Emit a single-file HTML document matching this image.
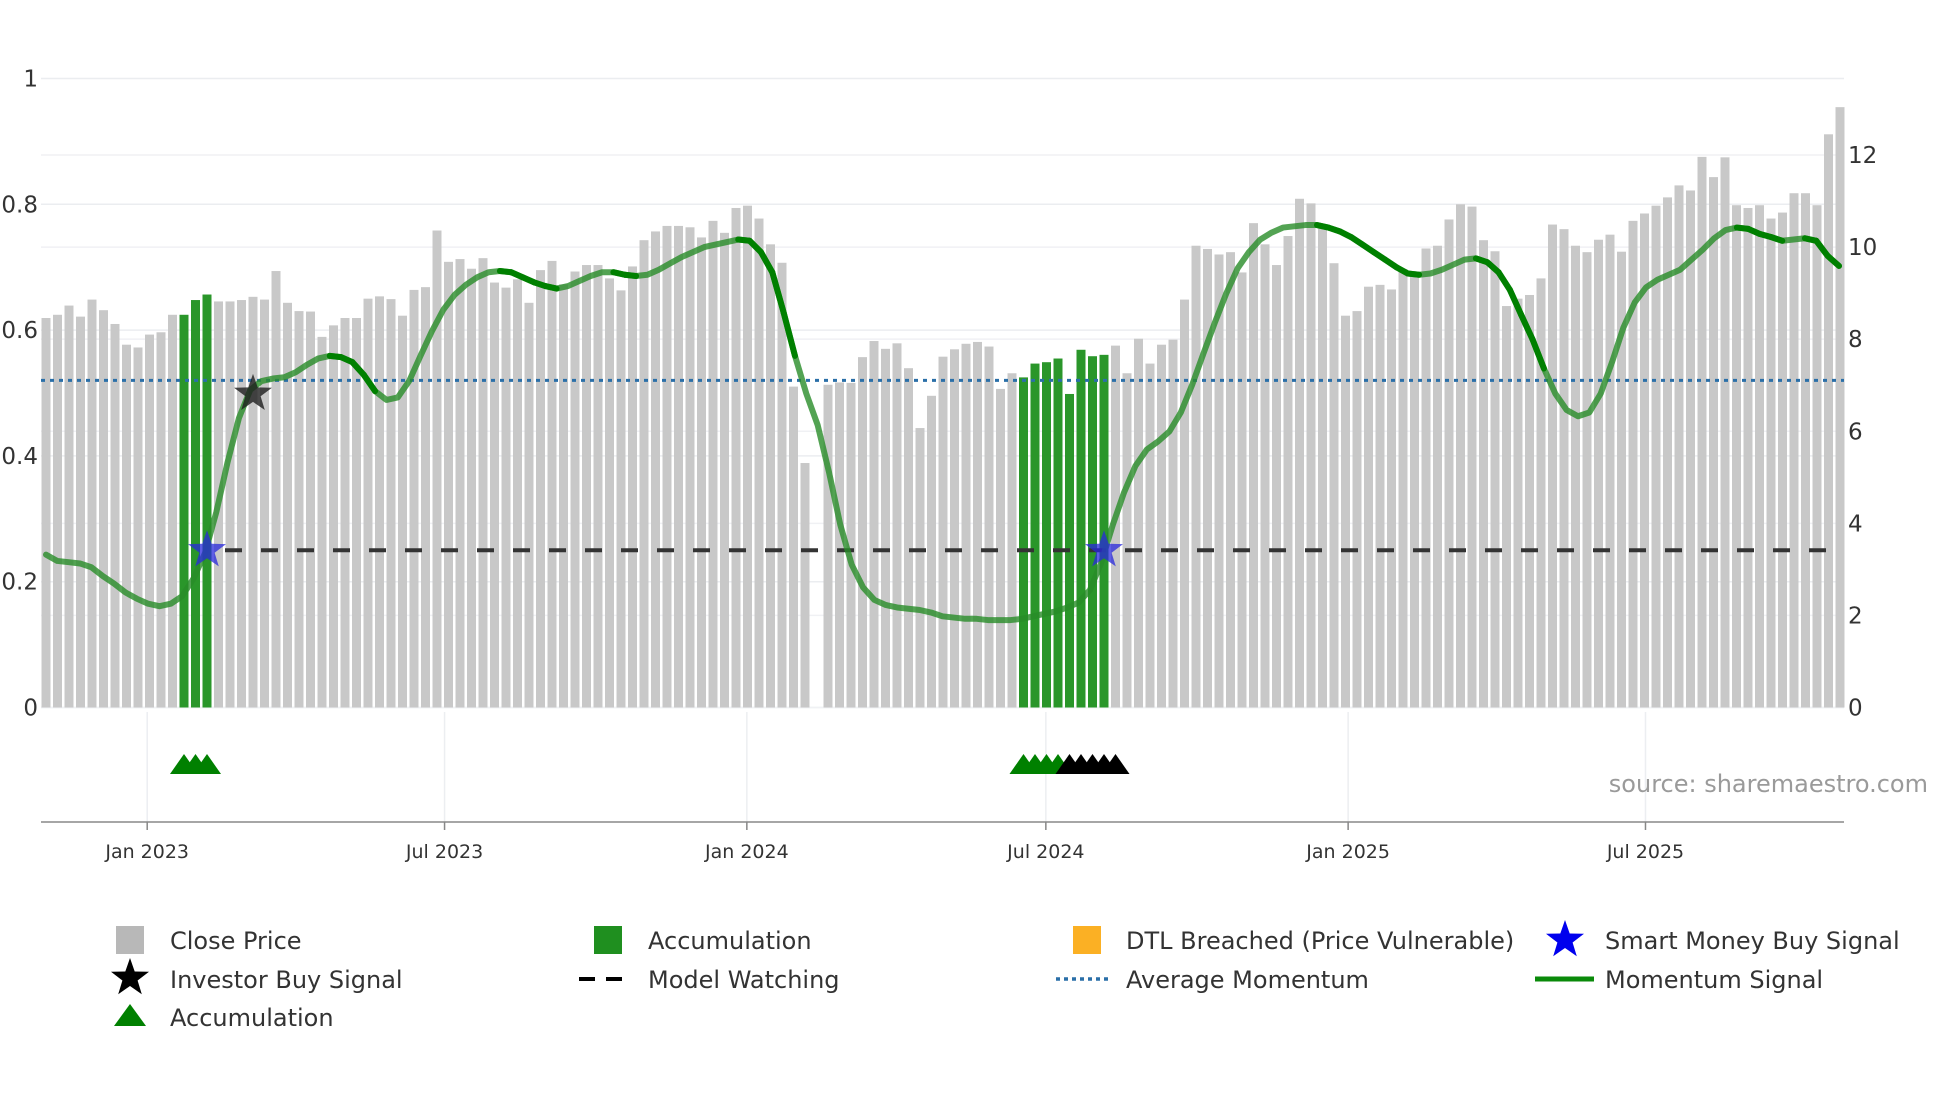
<!DOCTYPE html>
<html><head><meta charset="utf-8"><style>
body{margin:0;background:#fff;}
svg{display:block;font-family:"DejaVu Sans","Liberation Sans",sans-serif;}
</style></head><body>
<svg id="chart" width="1960" height="1102" viewBox="0 0 1960 1102">
<g id="grid"></g>
<g id="bars"></g>
<g id="lines"></g>
<g id="marks"></g>
<g id="axes"></g>
<text x="1928" y="792" text-anchor="end" font-size="24" fill="#9a9a9a">source: sharemaestro.com</text>
<g id="legend" font-size="24" fill="#333">
  <g><rect x="116" y="926" width="28" height="28" fill="#b8b8b8"/><text x="170" y="949">Close Price</text></g>
  <g><rect x="594" y="926" width="28" height="28" fill="#1f8f1f"/><text x="648" y="949">Accumulation</text></g>
  <g><rect x="1073" y="926" width="28" height="28" fill="#fbb024"/><text x="1126" y="949">DTL Breached (Price Vulnerable)</text></g>
  <g><polygon id="lgstar1" fill="#0000ee"/><text x="1605" y="949">Smart Money Buy Signal</text></g>
  <g><polygon id="lgstar2" fill="#000"/><text x="170" y="988">Investor Buy Signal</text></g>
  <g><line x1="579" y1="979" x2="632" y2="979" stroke="#000" stroke-width="4" stroke-dasharray="16 11"/><text x="648" y="988">Model Watching</text></g>
  <g><line x1="1056" y1="979" x2="1110" y2="979" stroke="#2a6fa8" stroke-width="3.5" stroke-dasharray="4 4"/><text x="1126" y="988">Average Momentum</text></g>
  <g><line x1="1535" y1="979" x2="1594" y2="979" stroke="#0a8a0a" stroke-width="5"/><text x="1605" y="988">Momentum Signal</text></g>
  <g><polygon points="114,1026 146,1026 130,1004" fill="#008000"/><text x="170" y="1026">Accumulation</text></g>
</g>
</svg>
<script>
const closePrices=[8.46,8.53,8.73,8.49,8.86,8.63,8.33,7.88,7.82,8.10,8.15,8.53,8.53,8.85,8.97,8.82,8.82,8.85,8.92,8.86,9.48,8.79,8.61,8.60,8.05,8.30,8.46,8.46,8.88,8.93,8.87,8.51,9.07,9.13,10.36,9.68,9.74,9.53,9.76,9.23,
9.12,9.30,8.79,9.50,9.70,9.19,9.47,9.61,9.61,9.32,9.06,9.58,10.15,10.34,10.46,10.46,10.43,10.21,10.57,10.31,10.85,10.90,10.62,10.06,9.66,6.97,5.31,null,7.01,7.06,7.05,7.61,7.96,7.79,7.91,7.37,6.07,6.77,7.62,
7.78,7.90,7.94,7.84,6.92,7.26,7.17,7.47,7.50,7.58,6.81,7.77,7.63,7.66,7.86,7.26,8.01,7.47,7.88,7.99,8.86,10.03,9.96,9.84,9.89,9.45,10.52,10.06,9.61,10.24,11.05,10.95,10.47,9.65,8.51,8.61,9.14,9.18,9.08,
9.52,9.45,9.97,10.03,10.60,10.93,10.88,10.15,9.91,8.72,8.88,8.96,9.32,10.49,10.39,10.03,9.89,10.16,10.27,9.90,10.57,10.73,10.90,11.08,11.34,11.23,11.96,11.52,11.95,10.91,10.85,10.91,10.62,10.75,11.17,11.17,10.91,12.45,13.04];
const accumulationBars=[12,13,14,85,86,87,88,89,90,91,92];
const momentum=[0.243,0.233,0.231,0.229,0.223,0.209,0.197,0.183,0.173,0.165,0.161,0.165,0.177,0.205,0.245,0.31,0.39,0.46,0.505,0.519,0.523,0.525,0.533,0.545,0.555,0.559,0.557,0.549,0.529,0.503,0.489,0.493,0.519,0.559,0.598,0.632,0.656,0.672,0.684,0.692,0.694,0.692,0.684,0.676,0.670,0.666,0.670,0.678,0.686,0.692,0.692,0.688,0.686,0.688,0.696,0.706,0.716,0.724,0.732,0.736,0.740,0.744,0.742,0.724,0.692,0.628,0.559,0.499,0.449,0.374,0.290,0.227,0.191,0.171,0.163,0.159,0.157,0.155,0.151,0.145,0.143,0.141,0.141,0.139,0.139,0.139,0.141,0.145,0.149,0.153,0.159,0.167,0.187,0.231,0.290,0.342,0.384,0.410,0.423,0.439,0.469,0.513,0.563,0.612,0.658,0.698,0.724,0.744,0.755,0.763,0.765,0.767,0.767,0.763,0.757,0.748,0.736,0.724,0.712,0.700,0.690,0.688,0.690,0.696,0.704,0.712,0.714,0.708,0.692,0.664,0.624,0.585,0.539,0.499,0.473,0.463,0.469,0.499,0.549,0.604,0.644,0.668,0.680,0.688,0.696,0.712,0.728,0.746,0.759,0.763,0.761,0.753,0.748,0.742,0.744,0.746,0.742,0.718,0.702];
const avgMomentum=0.52;
const watchLevel=0.25;
const smartMoneyIdx=[14,92];
const investorIdx=[18];
const accumTriGreen=[12,13,14,85,86,87,88];
const accumTriBlack=[89,90,91,92,93];
const leftTicks=[0,0.2,0.4,0.6,0.8,1];
const leftTickLabels=["0","0.2","0.4","0.6","0.8","1"];
const rightTicks=[0,2,4,6,8,10,12];
const dateTickLabels=["Jan 2023","Jul 2023","Jan 2024","Jul 2024","Jan 2025","Jul 2025"];
const dateTickDays=[61.6,242.6,426.6,608.6,792.6,973.6];

const NS="http://www.w3.org/2000/svg";
function mk(tag,attrs,parent){const e=document.createElementNS(NS,tag);for(const k in attrs)e.setAttribute(k,attrs[k]);parent.appendChild(e);return e;}
const X0=46,DX=11.5;
const xi=i=>X0+DX*i;
const xDay=d=>X0+DX*d/7;
const yL=v=>707.5-v*629;
const yR=v=>707.5-v*46.04;
const grid=document.getElementById('grid'),bars=document.getElementById('bars'),lines=document.getElementById('lines'),marks=document.getElementById('marks'),axes=document.getElementById('axes');

leftTicks.forEach((t,k)=>{
  const g=mk('line',{x1:41,x2:1844,y1:yL(t),y2:yL(t),stroke:'#ebedf0','stroke-width':1.5},grid);
  
  
  const tx=mk('text',{x:38,y:yL(t)+8,'text-anchor':'end','font-size':23,fill:'#333'},axes);
  tx.textContent=leftTickLabels[k];
  
  
});
rightTicks.forEach(t=>{
  const g=mk('line',{x1:41,x2:1844,y1:yR(t),y2:yR(t),stroke:'#f0f1f4','stroke-width':1.5},grid);
  
  
  const tx=mk('text',{x:1848,y:yR(t)+8,'font-size':23,fill:'#333'},axes);
  tx.textContent=String(t);
  
  
});
dateTickDays.forEach((d,k)=>{
  const x=xDay(d);
  const g=mk('line',{x1:x,x2:x,y1:712,y2:822,stroke:'#eceef1','stroke-width':1.5},grid);
  
  
  const tk=mk('line',{x1:x,x2:x,y1:822,y2:830,stroke:'#888','stroke-width':1.5},axes);
  
  
  const tx=mk('text',{x:x,y:858,'text-anchor':'middle','font-size':19,fill:'#333'},axes);
  tx.textContent=dateTickLabels[k];
  
  
});
const axl=mk('line',{x1:41,x2:1844,y1:822,y2:822,stroke:'#888','stroke-width':1.5},axes);



closePrices.forEach((v,i)=>{
  if(v==null)return;
  const acc=accumulationBars.includes(i);
  const r=mk('rect',{x:xi(i)-4.5,y:yR(v),width:9,height:yR(0)-yR(v),fill:acc?'#2a962a':'#c8c8c8'},bars);
  
  
});

const avg=mk('line',{x1:41,x2:1844,y1:yL(avgMomentum),y2:yL(avgMomentum),stroke:'#2a6fa8','stroke-width':3,'stroke-dasharray':'4 5'},lines);


const watch=mk('line',{x1:xi(smartMoneyIdx[0])+18,x2:1840,y1:yL(watchLevel),y2:yL(watchLevel),stroke:'#333','stroke-width':4,'stroke-dasharray':'17 19'},lines);



const M=momentum.length;
const mx=k=>X0+(1839-X0)*k/(M-1);
const pts=momentum.map((v,k)=>mx(k)+','+yL(v)).join(' ');
const ml=mk('polyline',{points:pts,fill:'none',stroke:'rgba(40,140,40,0.8)','stroke-width':6,'stroke-linejoin':'round','stroke-linecap':'round'},lines);


for(let k=1;k<M;k++){
  if(momentum[k]<momentum[k-1]&&momentum[k]>0.5){
    const s=mk('line',{x1:mx(k-1),y1:yL(momentum[k-1]),x2:mx(k),y2:yL(momentum[k]),stroke:'#008000','stroke-width':6,'stroke-linecap':'round'},lines);
    
    
  }
}

function starPts(cx,cy,R,r){let p=[];for(let k=0;k<10;k++){const a=-Math.PI/2+k*Math.PI/5;const rr=k%2?r:R;p.push((cx+rr*Math.cos(a)).toFixed(1)+','+(cy+rr*Math.sin(a)).toFixed(1));}return p.join(' ');}
smartMoneyIdx.forEach(i=>{
  const s=mk('polygon',{points:starPts(xi(i),yL(watchLevel),20,8),fill:'rgba(40,40,220,0.75)'},marks);
  
  
});
investorIdx.forEach(i=>{
  const k=Math.round(i*(M-1)/(closePrices.length-1));
  const s=mk('polygon',{points:starPts(xi(i),yL(momentum[k])+4,20,8),fill:'rgba(30,30,30,0.8)'},marks);
  
  
});
function tri(i,color){
  const x=xi(i),y=764;
  const t=mk('polygon',{points:(x-14)+','+(y+10)+' '+(x+14)+','+(y+10)+' '+x+','+(y-10),fill:color},marks);
  
  
}
accumTriGreen.forEach(i=>tri(i,'#008000'));
accumTriBlack.forEach(i=>tri(i,'#000'));

document.getElementById('lgstar1').setAttribute('points',starPts(1565,940,20,8));
document.getElementById('lgstar2').setAttribute('points',starPts(130,978,20,8));
</script>
</body></html>
